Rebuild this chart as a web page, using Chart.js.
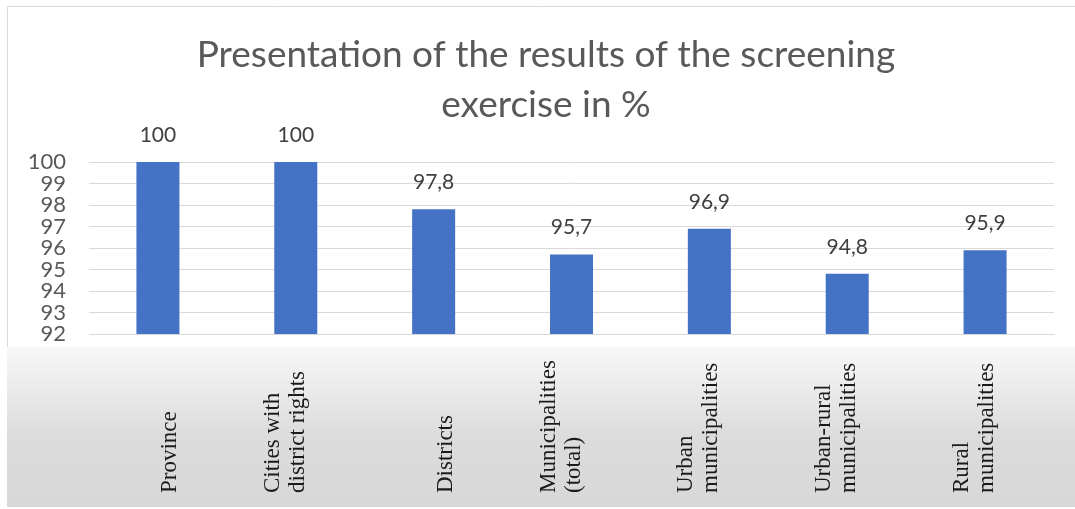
<!DOCTYPE html>
<html>
<head>
<meta charset="utf-8">
<script src="https://cdn.jsdelivr.net/npm/chart.js@4/dist/chart.umd.min.js"></script>
<style>
  html, body { margin: 0; padding: 0; background: #ffffff; }
  canvas { display: block; }
</style>
</head>
<body>
<canvas id="c" width="1075" height="509"></canvas>
<script>
const titleLines = ["Presentation of the results of the screening", "exercise in %"];
const categories = [
  ["Province"],
  ["Cities with", "district rights"],
  ["Districts"],
  ["Municipalities", "(total)"],
  ["Urban", "municipalities"],
  ["Urban-rural", "municipalities"],
  ["Rural", "municipalities"]
];
const values = [100, 100, 97.8, 95.7, 96.9, 94.8, 95.9];
const yMin = 92, yMax = 100, yStep = 1;

const PAD_L = 38, PAD_R = 21, PLOT_LEFT = 89;

const frameAndBox = {
  id: 'frameAndBox',
  afterLayout(chart) {
    // let the y tick labels use the space left of the padding (no clipping)
    const ys = chart.scales.y;
    ys.left = 0;
    ys.width = ys.right;
  },
  beforeDraw(chart) {
    const ctx = chart.ctx;
    ctx.save();
    ctx.fillStyle = '#ffffff';
    ctx.fillRect(0, 0, chart.width, chart.height);
    ctx.strokeStyle = '#d9d9d9';
    ctx.lineWidth = 1;
    ctx.beginPath();
    ctx.moveTo(7.5, 347);
    ctx.lineTo(7.5, 6.5);
    ctx.lineTo(chart.width, 6.5);
    ctx.stroke();
    const top = 347, bottom = 507;
    const g = ctx.createLinearGradient(0, top, 0, bottom);
    g.addColorStop(0, '#f8f8f8');
    g.addColorStop(0.55, '#dcdcdc');
    g.addColorStop(1, '#d8d8d8');
    ctx.fillStyle = g;
    ctx.fillRect(7, top, chart.width - 7, bottom - top);
    ctx.restore();
  },
  afterDraw(chart) {
    const ctx = chart.ctx;
    const xs = chart.scales.x;
    ctx.save();
    ctx.fillStyle = '#1a1a1a';
    ctx.font = '23px "Liberation Serif", "Times New Roman", serif';
    ctx.textAlign = 'left';
    ctx.textBaseline = 'alphabetic';
    categories.forEach((lines, i) => {
      const x = xs.getPixelForTick(i);
      const base = lines.length === 1 ? 18 : -17;
      ctx.save();
      ctx.translate(x, 493);
      ctx.rotate(-Math.PI / 2);
      lines.forEach((t, k) => {
        ctx.fillText(t, 0, base + k * 25);
      });
      ctx.restore();
    });
    const meta = chart.getDatasetMeta(0);
    ctx.fillStyle = '#404040';
    ctx.font = '21px Lato, "Open Sans", sans-serif';
    ctx.textAlign = 'center';
    meta.data.forEach((bar, i) => {
      const txt = String(values[i]).replace('.', ',');
      ctx.fillText(txt, bar.x, bar.y - 20);
    });
    ctx.restore();
  }
};

new Chart(document.getElementById('c'), {
  type: 'bar',
  data: {
    labels: categories,
    datasets: [{
      data: values,
      backgroundColor: '#4472C4',
      borderWidth: 0,
      categoryPercentage: 1,
      barPercentage: 0.312
    }]
  },
  options: {
    responsive: false,
    animation: false,
    layout: { padding: { top: 0, right: PAD_R, bottom: 0, left: PAD_L } },
    plugins: {
      legend: { display: false },
      tooltip: { enabled: false },
      title: {
        display: true,
        text: titleLines,
        color: '#595959',
        font: { family: 'Lato, "Open Sans", sans-serif', size: 37, weight: 'normal', lineHeight: '50px' },
        padding: { top: 30, bottom: 32 }
      }
    },
    scales: {
      x: {
        grid: { display: false, drawTicks: false },
        border: { display: true, color: '#d9d9d9' },
        ticks: { display: false },
        afterFit(s) { s.height = 175; }
      },
      y: {
        min: yMin,
        max: yMax,
        grid: { color: '#d9d9d9', drawTicks: false, lineWidth: 1 },
        border: { display: false },
        ticks: {
          stepSize: yStep,
          autoSkip: false,
          padding: 23,
          color: '#595959',
          font: { family: 'Lato, "Open Sans", sans-serif', size: 22 }
        },
        afterFit(s) { s.width = PLOT_LEFT - PAD_L; }
      }
    }
  },
  plugins: [frameAndBox]
});
</script>
</body>
</html>
